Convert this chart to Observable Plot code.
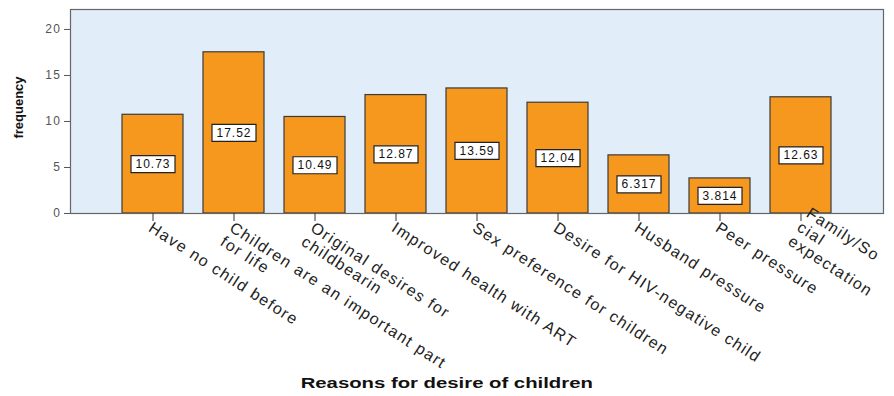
<!DOCTYPE html>
<html><head><meta charset="utf-8">
<script src="https://cdn.jsdelivr.net/npm/d3@7"></script>
<script src="https://cdn.jsdelivr.net/npm/@observablehq/plot@0.6"></script>
<style>
body{margin:0;background:#fff;font-family:"Liberation Sans",Arial,sans-serif;}
#chart svg{display:block}
#xtitle{width:894px;height:26px;text-align:center;font-weight:bold;font-size:14px;line-height:26px;color:#111;}
#xtitle span{display:inline-block;transform:scaleX(1.45);transform-origin:center;}
</style>
</head><body><div id="chart"></div><div id="xtitle"><span>Reasons for desire of children</span></div>
<script>
const categories = ["Have no child before", "Children are an important part for life", "Original desires for childbearin", "Improved health with ART", "Sex preference for children", "Desire for HIV-negative child", "Husband pressure", "Peer pressure", "Family/Social expectation"];
const tickLabels = ["Have no child before", "Children are an important part\nfor life", "Original desires for\nchildbearin", "Improved health with ART", "Sex preference for children", "Desire for HIV-negative child", "Husband pressure", "Peer pressure", "Family/So\ncial\nexpectation"];
const values = [10.73, 17.52, 10.49, 12.87, 13.59, 12.04, 6.317, 3.814, 12.63];
const valueLabels = ["10.73", "17.52", "10.49", "12.87", "13.59", "12.04", "6.317", "3.814", "12.63"];
const yTicks = [0, 5, 10, 15, 20];
const yLabel = "frequency";

const data = categories.map((c, i) => ({category: c, label: tickLabels[i], value: values[i], text: valueLabels[i], lines: tickLabels[i].split("\n").length}));

const boxSymbol = {draw(ctx) { const w = 22, h = 8.5; ctx.moveTo(-w, -h); ctx.lineTo(w, -h); ctx.lineTo(w, h); ctx.lineTo(-w, h); ctx.closePath(); }};

const chart = Plot.plot({
  width: 894, height: 370,
  marginLeft: 70, marginRight: 11, marginTop: 9, marginBottom: 157,
  style: {fontFamily: "'Liberation Sans', Arial, sans-serif", background: "white", overflow: "visible"},
  x: {domain: categories, paddingInner: 0.25, paddingOuter: 0.625, axis: null},
  y: {domain: [0, 22.17], axis: null},
  marks: [
    Plot.frame({fill: "#E2EDFA"}),
    Plot.barY(data, {x: "category", y: "value", fill: "#F7981E", stroke: "#3a3a3a", strokeWidth: 1.2}),
    Plot.frame({stroke: "#666", strokeWidth: 1.2}),
    Plot.axisY({ticks: yTicks, tickSize: 6, tickPadding: 3, fontSize: 12, color: "#555", label: null}),
    Plot.axisX({tickSize: 8, tickFormat: () => "", label: null, color: "#333"}),
    Plot.text(data.filter(d => d.lines < 3), {x: "category", y: 0, text: "label", rotate: 33, textAnchor: "start", lineAnchor: "top", dy: 7, dx: 1, fontSize: 16, fill: "#222", lineHeight: 1.05}),
    Plot.text(data.filter(d => d.lines >= 3), {x: "category", y: 0, text: "label", rotate: 33, textAnchor: "start", lineAnchor: "middle", dy: 12, dx: -2, fontSize: 16, fill: "#222", lineHeight: 1.05}),
    Plot.dot(data, {x: "category", y: d => d.value / 2, symbol: boxSymbol, fill: "white", stroke: "#222", strokeWidth: 1.2, r: 5}),
    Plot.text(data, {x: "category", y: d => d.value / 2, text: "text", fontSize: 12, fill: "#111"}),
    Plot.text([yLabel], {frameAnchor: "left", dx: -52, dy: -4, rotate: -90, textAnchor: "middle", text: d => d, fontSize: 13, fontWeight: "bold", fill: "#111"})
  ]
});
// widen the lettering to match the horizontally stretched reference
const catSet = new Set(tickLabels.map(s => s.replace(/\n/g, "")));
const valSet = new Set(valueLabels);
const tickSet = new Set(yTicks.map(String));
d3.select(chart).selectAll("text").each(function() {
  const t = this.textContent;
  if (catSet.has(t)) this.style.letterSpacing = "1.4px";
  else if (valSet.has(t)) this.style.letterSpacing = "1px";
  else if (tickSet.has(t)) this.style.letterSpacing = "1.5px";
});
document.getElementById("chart").appendChild(chart);
</script>
</body></html>
